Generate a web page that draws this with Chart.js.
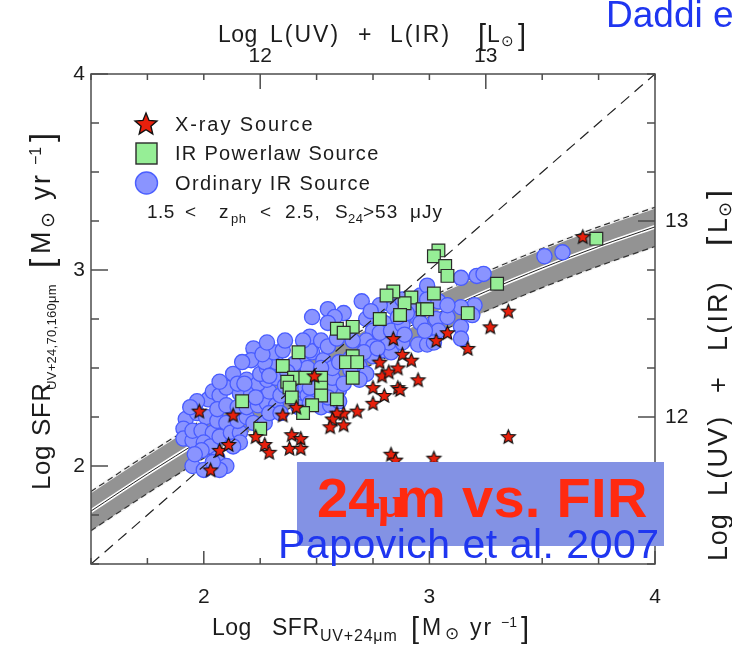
<!DOCTYPE html>
<html>
<head>
<meta charset="utf-8">
<script src="https://cdn.jsdelivr.net/npm/chart.js@4.4.1/dist/chart.umd.min.js"></script>
<style>
  html, body { margin: 0; padding: 0; background: #fff; }
  #wrap { width: 732px; height: 646px; }
</style>
</head>
<body>
<div id="wrap"><canvas id="chart" width="732" height="646"></canvas></div>
<script>
'use strict';

// X-ray sources (red stars)
const xraySfr24 = [1.98, 2.13, 2.35, 2.41, 2.07, 2.11, 2.03, 2.23, 2.27, 2.29, 2.39, 2.43, 2.38, 2.43, 2.49,
    2.78, 2.79, 2.82, 2.86, 2.88, 2.92, 2.95, 2.75, 2.80, 2.86, 2.87, 2.75, 2.68, 2.62, 2.59,
    2.57, 2.62, 2.56, 2.83, 2.85, 3.02, 3.35, 3.68, 3.35, 3.27, 3.17, 3.08, 3.03, 2.84];
const xraySfrFir = [2.28, 2.26, 2.26, 2.30, 2.08, 2.11, 1.98, 2.15, 2.11, 2.07, 2.16, 2.14, 2.09, 2.09, 2.46,
    2.53, 2.46, 2.48, 2.50, 2.57, 2.54, 2.44, 2.40, 2.36, 2.40, 2.39, 2.32, 2.28, 2.27, 2.27,
    2.24, 2.21, 2.20, 2.06, 2.03, 2.04, 2.15, 3.17, 2.79, 2.71, 2.60, 2.68, 2.64, 2.65];

// IR powerlaw sources (green squares)
const plawSfr24 = [3.74, 3.30, 3.04, 3.02, 3.07, 3.08, 3.02, 2.92, 2.89, 2.97, 2.99, 3.17, 2.87, 2.84, 2.81,
    2.78, 2.59, 2.66, 2.62, 2.42, 2.35, 2.66, 2.63, 2.68, 2.66, 2.40, 2.45, 2.52, 2.37, 2.38,
    2.52, 2.39, 2.52, 2.59, 2.48, 2.44, 2.17, 2.25];
const plawSfrFir = [3.16, 2.93, 3.10, 3.07, 3.02, 2.97, 2.88, 2.86, 2.83, 2.80, 2.80, 2.78, 2.77, 2.89, 2.87,
    2.75, 2.70, 2.71, 2.68, 2.58, 2.51, 2.56, 2.53, 2.53, 2.45, 2.45, 2.45, 2.45, 2.43, 2.40,
    2.40, 2.35, 2.36, 2.34, 2.31, 2.27, 2.33, 2.19];

// ordinary IR sources (blue circles)
const ordSfr24 = [1.92, 1.91, 1.91, 1.95, 1.95, 1.97, 2.01, 1.99, 2.04, 2.00, 2.03, 1.99, 2.06, 2.10, 2.07,
    2.12, 2.16, 2.15, 2.19, 2.22, 2.16, 2.13, 2.06, 2.10, 1.95, 2.00, 2.07, 2.02, 2.04, 2.07,
    2.10, 2.06, 2.10, 2.15, 2.19, 2.16, 2.21, 2.13, 2.15, 2.19, 2.24, 2.28, 2.32, 2.27, 2.29,
    2.34, 2.25, 2.29, 2.34, 2.24, 2.28, 2.32, 2.18, 2.23, 2.25, 2.28, 2.32, 2.27, 2.31, 2.35,
    2.22, 2.21, 2.26, 2.29, 2.40, 2.42, 2.43, 2.44, 2.45, 2.46, 2.47, 2.52, 2.56, 2.60, 2.60,
    2.56, 2.57, 2.55, 2.47, 2.62, 2.44, 2.48, 2.53, 2.57, 2.46, 2.52, 2.47, 2.47, 2.52, 2.55,
    2.44, 2.59, 2.48, 2.55, 2.62, 2.58, 2.55, 2.70, 2.72, 2.75, 2.72, 2.75, 2.79, 2.83, 2.75,
    2.69, 2.72, 2.69, 2.65, 2.60, 2.71, 2.82, 2.80, 2.78, 2.83, 2.88, 2.91, 2.93, 2.96, 2.84,
    2.88, 2.78, 2.74, 2.99, 3.14, 3.21, 3.24, 3.20, 3.14, 3.19, 3.03, 2.95, 3.04, 3.14, 3.14,
    2.95, 2.99, 3.02, 2.99, 3.04, 2.96, 2.90, 3.51, 3.59, 2.40, 2.88, 2.86, 2.77, 2.65, 2.66,
    2.37, 1.97, 1.94, 2.36, 1.96, 2.04, 2.36, 2.89, 2.98, 3.08, 3.08, 2.28, 2.17, 2.07];
const ordSfrFir = [2.24, 2.19, 2.14, 2.13, 2.18, 2.27, 2.25, 2.18, 2.17, 2.12, 2.10, 2.08, 2.23, 2.22, 2.15,
    2.17, 2.17, 2.23, 2.25, 2.22, 2.12, 2.10, 2.04, 2.00, 2.00, 1.98, 1.98, 2.34, 2.38, 2.36,
    2.40, 2.29, 2.31, 2.30, 2.30, 2.37, 2.37, 2.47, 2.42, 2.44, 2.31, 2.32, 2.31, 2.22, 2.27,
    2.27, 2.38, 2.38, 2.36, 2.42, 2.44, 2.45, 2.42, 2.35, 2.47, 2.50, 2.53, 2.53, 2.58, 2.59,
    2.60, 2.54, 2.57, 2.46, 2.35, 2.30, 2.39, 2.44, 2.40, 2.36, 2.32, 2.30, 2.31, 2.33, 2.39,
    2.40, 2.45, 2.35, 2.40, 2.42, 2.54, 2.58, 2.54, 2.50, 2.50, 2.50, 2.59, 2.66, 2.64, 2.61,
    2.64, 2.65, 2.76, 2.80, 2.78, 2.76, 2.73, 2.84, 2.75, 2.69, 2.64, 2.61, 2.59, 2.58, 2.56,
    2.51, 2.47, 2.44, 2.55, 2.53, 2.58, 2.63, 2.73, 2.68, 2.69, 2.72, 2.78, 2.82, 2.87, 2.81,
    2.85, 2.82, 2.79, 2.92, 2.96, 2.97, 2.98, 2.82, 2.81, 2.77, 2.75, 2.75, 2.69, 2.71, 2.65,
    2.62, 2.62, 2.63, 2.85, 2.84, 2.73, 2.78, 3.07, 3.09, 2.52, 2.63, 2.76, 2.60, 2.49, 2.64,
    2.48, 2.33, 2.30, 2.64, 2.06, 2.02, 2.41, 2.67, 2.69, 2.76, 2.82, 2.63, 2.53, 2.43];

// relation and its scatter (grey band)
const fitSfr24 = [1.5, 1.75, 2.0, 2.25, 2.5, 2.75, 3.0, 3.25, 3.5, 3.75, 4.0];
const fitMid = [1.77, 1.96, 2.14, 2.31, 2.47, 2.62, 2.76, 2.89, 3.01, 3.12, 3.22];
const fitUpper = [1.87, 2.06, 2.24, 2.41, 2.57, 2.72, 2.86, 2.99, 3.11, 3.22, 3.32];
const fitLower = [1.67, 1.86, 2.04, 2.21, 2.37, 2.52, 2.66, 2.79, 2.91, 3.02, 3.12];

// one-to-one line
const unityX = [1.5, 4.0];
const unityY = [1.5, 4.0];

// axis ranges
const sfrRange = [1.5, 4.0];
const lumRange = [11.25, 13.75];
const tickStep = 0.25;

const FONT = "'Liberation Sans', Arial, sans-serif";
const TXT = '#1c1c1c';

const pts = (xs, ys) => xs.map((x, i) => ({ x: x, y: ys[i] }));

// red five-pointed star used as point image
function makeStar(r, lw) {
    const c = document.createElement('canvas');
    const s = Math.ceil(2 * r + 2 * lw + 2);
    c.width = s;
    c.height = s;
    const g = c.getContext('2d');
    g.beginPath();
    for (let i = 0; i < 10; i++) {
        const rad = i % 2 ? r * 0.45 : r;
        const ang = -Math.PI / 2 + i * Math.PI / 5;
        g.lineTo(s / 2 + rad * Math.cos(ang), s / 2 + 0.6 + rad * Math.sin(ang));
    }
    g.closePath();
    g.fillStyle = '#e8200c';
    g.fill();
    g.lineWidth = lw;
    g.strokeStyle = '#111';
    g.stroke();
    return c;
}
const starSmall = makeStar(7.4, 1.1);
const starBig = makeStar(11.5, 1.4);

// text pieces with explicit offsets along the baseline
function drawParts(ctx, parts, x0, y0, angle) {
    ctx.save();
    ctx.translate(x0, y0);
    ctx.rotate(angle);
    ctx.textAlign = 'left';
    ctx.textBaseline = 'alphabetic';
    ctx.fillStyle = TXT;
    parts.forEach((p) => {
        ctx.font = p.f || p.s + 'px ' + FONT;
        ctx.letterSpacing = (p.ls || 0) + 'px';
        ctx.fillText(p.t, p.o, p.dy || 0);
    });
    ctx.restore();
}

const bottomTitle = [
    { t: 'Log', s: 23, o: 0, ls: 0.5 },
    { t: 'SFR', s: 23, o: 60, ls: 0.5 },
    { t: 'UV+24\u03bcm', s: 16, o: 108, dy: 6, ls: 0.8 },
    { t: '[', s: 29, o: 199, dy: 3 },
    { t: 'M', s: 23, o: 210 },
    { t: '\u2299', s: 17, o: 233, dy: 4 },
    { t: 'yr', s: 23, o: 258, ls: 2 },
    { t: '\u22121', s: 14, o: 289, dy: -8 },
    { t: ']', s: 29, o: 309, dy: 3 },
];
const topTitle = [
    { t: 'Log', s: 23, o: 0, ls: 0.5 },
    { t: 'L(UV)', s: 23, o: 52, ls: 2 },
    { t: '+', s: 23, o: 140 },
    { t: 'L(IR)', s: 23, o: 172, ls: 2 },
    { t: '[', s: 29, o: 260, dy: 3 },
    { t: 'L', s: 23, o: 269 },
    { t: '\u2299', s: 15, o: 283, dy: 4 },
    { t: ']', s: 29, o: 300, dy: 3 },
];
const leftTitle = [
    { t: 'Log', s: 26, o: 0, ls: 0.5 },
    { t: 'SFR', s: 26, o: 54, ls: 0.5 },
    { t: 'UV+24,70,160\u03bcm', s: 13, o: 100, dy: 6, ls: 0.3 },
    { t: '[', s: 33, o: 222, dy: 3 },
    { t: 'M', s: 27, o: 236 },
    { t: '\u2299', s: 19, o: 262, dy: 4 },
    { t: 'yr', s: 27, o: 290, ls: 2.5 },
    { t: '\u22121', s: 16, o: 325, dy: -9 },
    { t: ']', s: 33, o: 348, dy: 3 },
];
const rightTitle = [
    { t: 'Log', s: 27, o: 0, ls: 0.8 },
    { t: 'L(UV)', s: 27, o: 65, ls: 2.2 },
    { t: '+', s: 27, o: 168 },
    { t: 'L(IR)', s: 27, o: 210, ls: 2.2 },
    { t: '[', s: 33, o: 315, dy: 3 },
    { t: 'L', s: 27, o: 328 },
    { t: '\u2299', s: 18, o: 344, dy: 4 },
    { t: ']', s: 33, o: 362, dy: 3 },
];
const legendNote = [
    { t: '1.5', s: 19, o: 0, ls: 0.5 },
    { t: '<', s: 19, o: 38 },
    { t: 'z', s: 19, o: 72 },
    { t: 'ph', s: 13, o: 84, dy: 5, ls: 0.5 },
    { t: '<', s: 19, o: 113 },
    { t: '2.5,', s: 19, o: 138, ls: 1 },
    { t: 'S', s: 19, o: 188 },
    { t: '24', s: 13, o: 201, dy: 5, ls: 0.5 },
    { t: '>53', s: 19, o: 216, ls: 1 },
    { t: '\u03bcJy', s: 19, o: 263, ls: 1 },
];

function drawLegend(ctx) {
    ctx.save();
    ctx.drawImage(starBig, 146 - starBig.width / 2, 124 - starBig.height / 2);
    ctx.fillStyle = '#96ee96';
    ctx.strokeStyle = '#2a2a2a';
    ctx.lineWidth = 1.4;
    ctx.fillRect(136, 143, 21, 21);
    ctx.strokeRect(136, 143, 21, 21);
    ctx.beginPath();
    ctx.arc(146.5, 183, 11, 0, Math.PI * 2);
    ctx.fillStyle = 'rgb(138,148,255)';
    ctx.fill();
    ctx.strokeStyle = 'rgb(75,95,255)';
    ctx.stroke();
    ctx.restore();
    drawParts(ctx, [{ t: 'X-ray Source', s: 20, o: 0, ls: 1.9 }], 175, 131, 0);
    drawParts(ctx, [{ t: 'IR Powerlaw Source', s: 20, o: 0, ls: 1.3 }], 175, 160, 0);
    drawParts(ctx, [{ t: 'Ordinary IR Source', s: 20, o: 0, ls: 1.4 }], 175, 190, 0);
    drawParts(ctx, legendNote, 147, 218, 0);
}

const decor = {
    id: 'decor',
    afterDatasetsDraw(chart) {
        const { ctx, chartArea: a, scales } = chart;
        ctx.save();
        ctx.strokeStyle = '#4d4d4d';
        ctx.lineWidth = 1.5;
        ctx.beginPath();
        const seg = (x1, y1, x2, y2) => {
            ctx.moveTo(x1, y1);
            ctx.lineTo(x2, y2);
        };
        const major = (v) => Math.abs(v - Math.round(v)) < 1e-6;
        scales.x.ticks.forEach((t) => {
            const p = scales.x.getPixelForValue(t.value);
            seg(p, a.bottom, p, a.bottom - (major(t.value) ? 13 : 6));
        });
        scales.x2.ticks.forEach((t) => {
            const p = scales.x2.getPixelForValue(t.value);
            seg(p, a.top, p, a.top + (major(t.value) ? 15 : 6));
        });
        scales.y.ticks.forEach((t) => {
            const p = scales.y.getPixelForValue(t.value);
            seg(a.left, p, a.left + (major(t.value) ? 17 : 8), p);
        });
        scales.y2.ticks.forEach((t) => {
            const p = scales.y2.getPixelForValue(t.value);
            seg(a.right, p, a.right - (major(t.value) ? 17 : 8), p);
        });
        ctx.stroke();
        ctx.strokeRect(a.left, a.top, a.right - a.left, a.bottom - a.top);
        ctx.restore();
    },
    afterDraw(chart) {
        const ctx = chart.ctx;
        drawParts(ctx, bottomTitle, 212, 635, 0);
        drawParts(ctx, topTitle, 218, 42, 0);
        drawParts(ctx, leftTitle, 50, 490, -Math.PI / 2);
        drawParts(ctx, rightTitle, 727, 561, -Math.PI / 2);
        drawLegend(ctx);

        // slide overlay
        ctx.save();
        ctx.fillStyle = '#8392e4';
        ctx.fillRect(297, 462, 367, 84);
        ctx.fillStyle = '#ff2a10';
        ctx.font = 'bold 56px ' + FONT;
        ctx.fillText('24', 317, 517);
        ctx.font = 'bold 45px "Liberation Serif", serif';
        ctx.fillText('\u03bc', 378, 517);
        ctx.font = 'bold 56px ' + FONT;
        ctx.letterSpacing = '0.3px';
        ctx.fillText('m vs. FIR', 396, 517);
        ctx.fillStyle = '#1f36f0';
        ctx.font = '41px ' + FONT;
        ctx.letterSpacing = '0.5px';
        ctx.fillText('Papovich et al. 2007', 278, 558);
        ctx.font = '37px ' + FONT;
        ctx.letterSpacing = '0px';
        ctx.fillText('Daddi e', 606, 27);
        ctx.restore();
    },
};

const tickFont = { family: FONT, size: 21 };
const onlyIntegers = (v) => (Math.abs(v - Math.round(v)) < 1e-6 ? String(Math.round(v)) : '');

new Chart(document.getElementById('chart'), {
    type: 'scatter',
    data: {
        datasets: [
            {
                label: 'X-ray Source',
                data: pts(xraySfr24, xraySfrFir),
                pointStyle: starSmall,
                order: 0,
            },
            {
                label: 'IR Powerlaw Source',
                data: pts(plawSfr24, plawSfrFir),
                pointStyle: 'rect',
                pointRadius: 9,
                backgroundColor: '#96ee96',
                borderColor: '#2a2a2a',
                borderWidth: 1.2,
                order: 1,
            },
            {
                type: 'line',
                label: 'one-to-one',
                data: pts(unityX, unityY),
                showLine: true,
                borderColor: '#222',
                borderWidth: 1.2,
                borderDash: [11, 7],
                pointRadius: 0,
                order: 2,
            },
            {
                label: 'Ordinary IR Source',
                data: pts(ordSfr24, ordSfrFir),
                pointStyle: 'circle',
                pointRadius: 7.6,
                backgroundColor: 'rgb(138,148,255)',
                borderColor: 'rgb(72,92,255)',
                borderWidth: 1.3,
                order: 3,
            },
            {
                type: 'line',
                label: 'fit core',
                data: pts(fitSfr24, fitMid),
                showLine: true,
                borderColor: '#222',
                borderWidth: 1,
                tension: 0.3,
                pointRadius: 0,
                order: 4,
            },
            {
                type: 'line',
                label: 'fit',
                data: pts(fitSfr24, fitMid),
                showLine: true,
                borderColor: '#fff',
                borderWidth: 4,
                tension: 0.3,
                pointRadius: 0,
                order: 5,
            },
            {
                type: 'line',
                label: 'upper edge',
                data: pts(fitSfr24, fitUpper),
                showLine: true,
                borderColor: '#333',
                borderWidth: 1.2,
                borderDash: [6, 4],
                tension: 0.3,
                pointRadius: 0,
                order: 6,
            },
            {
                type: 'line',
                label: 'lower edge',
                data: pts(fitSfr24, fitLower),
                showLine: true,
                borderColor: '#333',
                borderWidth: 1.2,
                borderDash: [6, 4],
                tension: 0.3,
                pointRadius: 0,
                order: 6,
            },
            {
                type: 'line',
                label: 'band',
                data: pts(fitSfr24, fitUpper),
                showLine: true,
                borderColor: '#f4f4f4',
                borderWidth: 3,
                backgroundColor: '#939393',
                fill: '+1',
                tension: 0.3,
                pointRadius: 0,
                order: 7,
            },
            {
                type: 'line',
                label: 'band bottom',
                data: pts(fitSfr24, fitLower),
                showLine: true,
                borderColor: '#f4f4f4',
                borderWidth: 3,
                tension: 0.3,
                pointRadius: 0,
                order: 8,
            },
        ],
    },
    options: {
        responsive: false,
        animation: false,
        events: [],
        layout: { padding: 0 },
        scales: {
            x: {
                type: 'linear',
                position: 'bottom',
                min: sfrRange[0],
                max: sfrRange[1],
                afterFit: (s) => { s.height = 82; },
                grid: { display: false, drawTicks: false },
                border: { display: false },
                ticks: { stepSize: tickStep, autoSkip: false, maxRotation: 0, padding: 21,
                    font: tickFont, color: TXT, callback: onlyIntegers },
            },
            x2: {
                type: 'linear',
                position: 'top',
                min: lumRange[0],
                max: lumRange[1],
                afterFit: (s) => { s.height = 74; },
                grid: { display: false, drawTicks: false },
                border: { display: false },
                ticks: { stepSize: tickStep, autoSkip: false, maxRotation: 0, padding: 5,
                    font: tickFont, color: TXT, callback: onlyIntegers },
            },
            y: {
                type: 'linear',
                position: 'left',
                min: sfrRange[0],
                max: sfrRange[1],
                afterFit: (s) => { s.width = 91; },
                grid: { display: false, drawTicks: false },
                border: { display: false },
                ticks: { stepSize: tickStep, autoSkip: false, padding: 6,
                    font: tickFont, color: TXT, callback: onlyIntegers },
            },
            y2: {
                type: 'linear',
                position: 'right',
                min: lumRange[0],
                max: lumRange[1],
                afterFit: (s) => { s.width = 77; },
                grid: { display: false, drawTicks: false },
                border: { display: false },
                ticks: { stepSize: tickStep, autoSkip: false, padding: 10,
                    font: tickFont, color: TXT, callback: onlyIntegers },
            },
        },
        plugins: {
            legend: { display: false },
            tooltip: { enabled: false },
        },
    },
    plugins: [decor],
});
</script>
</body>
</html>
